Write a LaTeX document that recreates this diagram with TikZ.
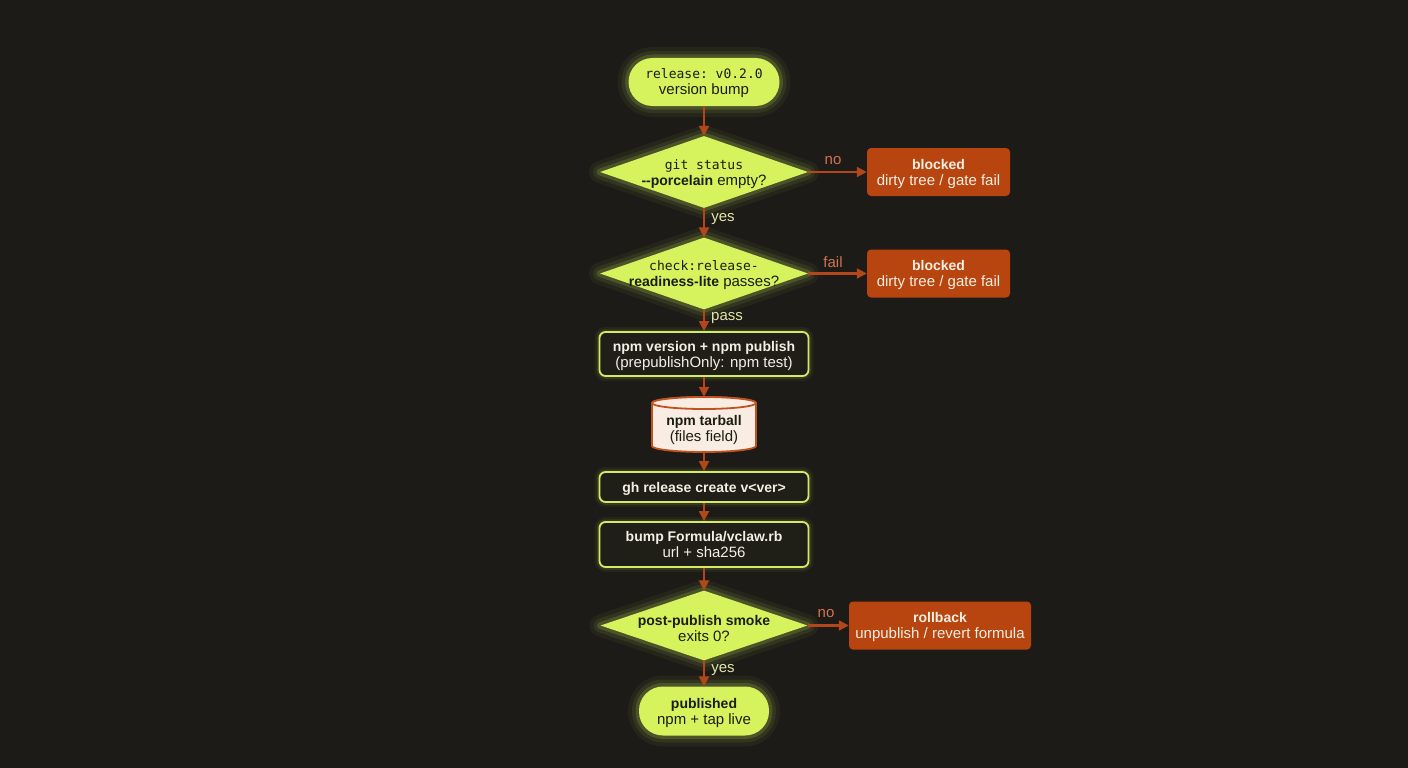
\documentclass[tikz,border=0pt]{standalone}
\usepackage{fontspec}
\setmainfont{Liberation Sans}
\setmonofont{DejaVu Sans Mono}
\usetikzlibrary{shapes.geometric,arrows.meta}
\definecolor{bg}{HTML}{1C1B17}
\definecolor{lime}{HTML}{D6F25C}
\definecolor{limeedge}{HTML}{D2EC66}
\definecolor{orangebox}{HTML}{B8450F}
\definecolor{arrowc}{HTML}{B3461B}
\definecolor{darktext}{HTML}{1C1D12}
\definecolor{lighttext}{HTML}{F3EFE2}
\definecolor{procfill}{HTML}{1F1F18}
\definecolor{cylfill}{HTML}{F8ECE3}
\definecolor{cyledge}{HTML}{C0521F}
\definecolor{labno}{HTML}{D2734F}
\definecolor{labyes}{HTML}{E2E8A8}
\newcommand\flowfs{\fontsize{15pt}{16pt}\selectfont}
\newcommand\flowmono{\fontsize{13pt}{16pt}\ttfamily}
\newcommand\hb[1]{{\fontsize{14pt}{16pt}\selectfont\bfseries #1}}
\tikzset{
  glow/.style={
    preaction={draw=lime,line width=22pt,opacity=0.05,line join=round},
    preaction={draw=lime,line width=14pt,opacity=0.08,line join=round},
    preaction={draw=lime,line width=7pt,opacity=0.16,line join=round}},
  softglow/.style={
    preaction={draw=lime,line width=10pt,opacity=0.05},
    preaction={draw=lime,line width=5.5pt,opacity=0.10}},
  pill/.style={glow, fill=lime, rounded corners=24pt, inner sep=0, text=darktext, align=center, font=\flowfs, text depth=0pt},
  dec/.style={glow, diamond, fill=lime, inner sep=0, minimum width=208pt, minimum height=72pt},
  txt/.style={align=center, font=\flowfs, text=darktext},
  blockbox/.style={fill=orangebox, rounded corners=4pt, text=lighttext, align=center, minimum height=48pt, font=\flowfs, text depth=0pt},
  proc/.style={softglow, draw=limeedge, line width=1.8pt, fill=procfill, rounded corners=6pt, text=lighttext, align=center, minimum width=209pt, font=\flowfs, text depth=0pt},
  flow/.style={draw=arrowc, line width=2.2pt, -{Triangle[length=10pt,width=10pt]}},
  lab/.style={font=\flowfs, anchor=center}
}
\begin{document}
\begin{tikzpicture}[x=1pt,y=-1pt]
\useasboundingbox (0,0) rectangle (1408,768);
\fill[bg] (0,0) rectangle (1408,768);

% start
\node[pill, minimum width=151pt, minimum height=48pt] (start) at (704,82)
  {{\flowmono release: v0.2.0}\\version bump};

% decision 1
\node[dec] (d1) at (704,172) {};
\node[txt] (d1t) at (704,174) {{\flowmono git status}\\\hb{-{}-porcelain} empty?};
\node[blockbox, minimum width=143pt] (b1) at (938.5,172) {\hb{blocked}\\dirty tree / gate fail};

% decision 2
\node[dec] (d2) at (704,273.5) {};
\node[txt] (d2t) at (704,275) {{\flowmono check:release-}\\\hb{readiness-lite} passes?};
\node[blockbox, minimum width=143pt] (b2) at (938.5,273.5) {\hb{blocked}\\dirty tree / gate fail};

% process 1
\node[proc, minimum height=44pt] (p1) at (704,354) {\hb{npm version + npm publish}\\(prepublishOnly: npm test)};

% cylinder
\path[draw=cyledge, line width=1.8pt, fill=cylfill]
  (652,403) -- (652,446) arc[start angle=180,end angle=360,x radius=52pt,y radius=6pt]
  -- (756,403) arc[start angle=0,end angle=180,x radius=52pt,y radius=6pt] -- cycle;
\draw[cyledge, line width=1.8pt, fill=cylfill] (704,403) ellipse[x radius=52pt,y radius=6pt];
\node[minimum width=104pt, minimum height=55pt, inner sep=0] (cyl) at (704,424.5) {};
\node[txt] (cylt) at (704,430) {\hb{npm tarball}\\(files field)};

% process 2, 3
\node[proc, minimum height=30pt] (p2) at (704,487) {\hb{gh release create v<ver>}};
\node[proc, minimum height=45pt] (p3) at (704,544.5) {\hb{bump Formula/vclaw.rb}\\url + sha256};

% decision 3
\node[dec, minimum width=207pt, minimum height=70pt] (d3) at (704,625.5) {};
\node[txt] (d3t) at (704,628) {\hb{post-publish smoke}\\exits 0?};
\node[blockbox, minimum width=182pt] (rb) at (940,625.5) {\hb{rollback}\\unpublish / revert formula};

% end
\node[pill, minimum width=130pt, minimum height=49pt] (end) at (704,711)
  {\hb{published}\\npm + tap live};

% connectors
\draw[flow] (start) -- (d1);
\draw[flow] (d1) -- (b1);
\draw[flow] (d1) -- (d2);
\draw[flow] (d2.east) -- (b2.west);
\draw[flow] (d2) -- (p1);
\draw[flow] (p1) -- (cyl);
\draw[flow] (cyl) -- (p2);
\draw[flow] (p2) -- (p3);
\draw[flow] (p3) -- (d3);
\draw[flow] (d3.east) -- (rb.west);
\draw[flow] (d3) -- (end);

% labels
\node[lab, text=labno] (lno1) at (833,161) {no};
\node[lab, text=labyes] (lyes1) at (723,219) {yes};
\node[lab, text=labno] (lfail) at (833,262) {fail};
\node[lab, text=labyes] (lpass) at (727,318) {pass};
\node[lab, text=labno] (lno3) at (826,614) {no};
\node[lab, text=labyes] (lyes3) at (723,670) {yes};
\end{tikzpicture}
\end{document}
